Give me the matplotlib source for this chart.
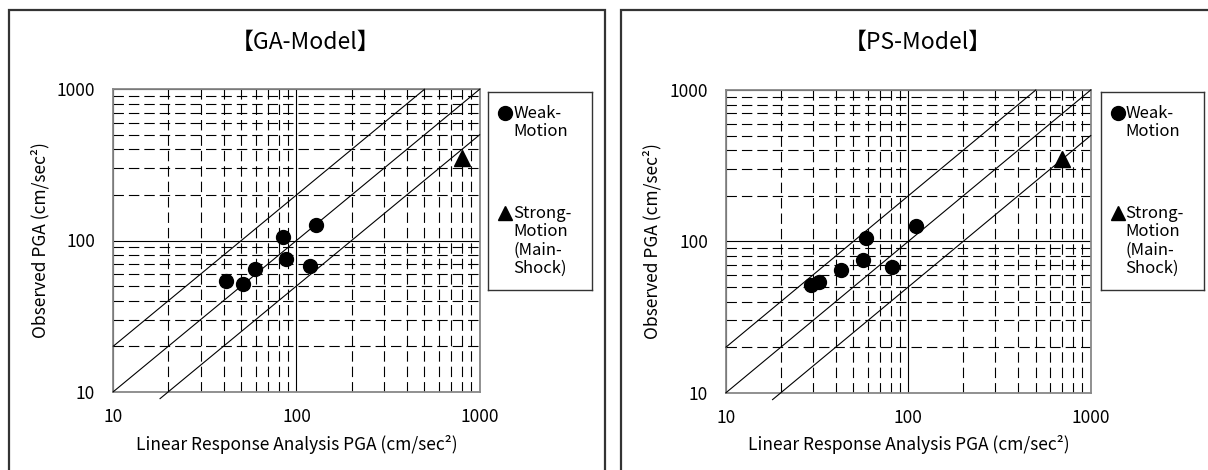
import matplotlib
matplotlib.use('Agg')
import matplotlib.pyplot as plt
from matplotlib.patches import Rectangle
from matplotlib.ticker import LogLocator, NullFormatter, FixedLocator
import numpy as np

plt.rcParams['font.family'] = ['Noto Sans CJK JP', 'DejaVu Sans']
plt.rcParams['lines.scale_dashes'] = False

# ---------------- data ----------------
titles = ['【GA-Model】', '【PS-Model】']
observed_weak = [54, 51.5, 64.5, 106, 75.5, 68, 127]
ga_weak = [41.2, 51.2, 59.6, 84, 87.3, 118.9, 127.7]
ps_weak = [32.5, 29.2, 42.6, 58.9, 56.6, 81.4, 110]
observed_strong = [352]
ga_strong = [805]
ps_strong = [693]
tick_values = [10, 100, 1000]
tick_labels = ['10', '100', '1000']
ratio_lines = [2, 1, 0.5]
legend_weak = ['Weak-', 'Motion']
legend_strong = ['Strong-', 'Motion', '(Main-', 'Shock)']
xlabel = 'Linear Response Analysis PGA (cm/sec²)'
ylabel = 'Observed PGA (cm/sec²)'

model_weak = [ga_weak, ps_weak]
model_strong = [ga_strong, ps_strong]

# ---------------- layout (pixels) ----------------
W, H = 1208, 470
fig = plt.figure(figsize=(W / 100, H / 100), dpi=100)


def fx(px):
    return px / W


def fy(py):
    return 1 - py / H


panel_left = [9.3, 621]
panel_right = [605, 1240]
axes_box = [(113.3, 89.3, 479.6, 391.7), (726.0, 90.0, 1090.7, 392.7)]
legend_box = [(488.3, 92.3, 591.7, 290.0), (1100.5, 92.3, 1204.0, 290.0)]

for i in range(2):
    # panel frame
    fig.add_artist(Rectangle((fx(panel_left[i]), fy(490)),
                             (panel_right[i] - panel_left[i]) / W, (490 - 10) / H,
                             transform=fig.transFigure, fill=False,
                             edgecolor='#333333', lw=1.6))

    x0, y0, x1, y1 = axes_box[i]
    ax = fig.add_axes([fx(x0), fy(y1), (x1 - x0) / W, (y1 - y0) / H])
    ax.set_xscale('log')
    ax.set_yscale('log')
    ax.set_xlim(10, 1000)
    ax.set_ylim(10, 1000)
    ax.xaxis.set_major_locator(FixedLocator(tick_values))
    ax.yaxis.set_major_locator(FixedLocator(tick_values))
    ax.set_xticklabels(tick_labels)
    ax.set_yticklabels(tick_labels)
    ax.xaxis.set_minor_locator(LogLocator(base=10, subs=np.arange(2, 10)))
    ax.yaxis.set_minor_locator(LogLocator(base=10, subs=np.arange(2, 10)))
    ax.xaxis.set_minor_formatter(NullFormatter())
    ax.yaxis.set_minor_formatter(NullFormatter())
    ax.tick_params(which='both', length=0)
    ax.tick_params(axis='x', pad=12, labelsize=12.5)
    ax.tick_params(axis='y', pad=13, labelsize=12.5)
    ax.grid(which='major', color='black', lw=0.8, ls='-')
    ax.grid(which='minor', color='black', lw=0.8, ls=(0, (7.5, 3.6)))
    ax.set_axisbelow(True)
    for s in ax.spines.values():
        s.set_color('#888888')
        s.set_linewidth(1.3)

    # reference lines y = r * x
    for r in ratio_lines:
        xs = np.array([max(10, 10 / r * 0.9), min(1000, 1000 / r)])
        ax.plot(xs, r * xs, color='black', lw=0.8, clip_on=False, zorder=3)

    ax.plot(model_weak[i], observed_weak, 'o', color='black', ms=10,
            clip_on=False, zorder=4)
    ax.plot(model_strong[i], observed_strong, '^', color='black', ms=11,
            clip_on=False, zorder=4)

    # texts
    fig.text(fx(306 + i * 612), fy(42), titles[i], ha='center', va='center',
             fontsize=16.5)
    fig.text(fx((x0 + x1) / 2), fy(445), xlabel, ha='center', va='center',
             fontsize=12.5)
    fig.text(fx(40 + i * 612), fy((y0 + y1) / 2), ylabel, ha='center',
             va='center', rotation=90, fontsize=12.5)

    # legend box
    lx0, ly0, lx1, ly1 = legend_box[i]
    lax = fig.add_axes([fx(lx0), fy(ly1), (lx1 - lx0) / W, (ly1 - ly0) / H])
    lax.set_xlim(0, lx1 - lx0)
    lax.set_ylim(ly1 - ly0, 0)
    lax.set_xticks([])
    lax.set_yticks([])
    for s in lax.spines.values():
        s.set_color('#333333')
        s.set_linewidth(1.0)
    lax.plot([17], [21], 'o', color='black', ms=10, clip_on=False)
    for k, t in enumerate(legend_weak):
        lax.text(25, 21 + k * 18.5, t, ha='left', va='center', fontsize=12)
    lax.plot([17], [121], '^', color='black', ms=10.5, clip_on=False)
    for k, t in enumerate(legend_strong):
        lax.text(25, 121 + k * 18.5, t, ha='left', va='center', fontsize=12)

fig.savefig('out.png', dpi=100)
